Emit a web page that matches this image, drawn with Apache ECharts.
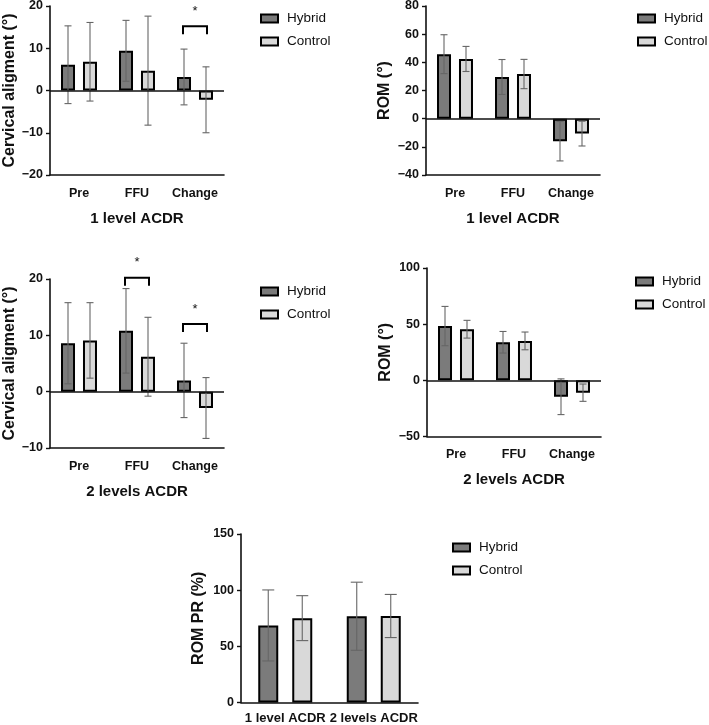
<!DOCTYPE html>
<html>
<head>
<meta charset="utf-8">
<script src="https://cdn.jsdelivr.net/npm/echarts@6/dist/echarts.min.js"></script>
<style>
  html, body { margin: 0; padding: 0; background: #fff; }
  #main { width: 709px; height: 725px; }
</style>
</head>
<body>
<div id="main"></div>
<script>
// categories
const phaseCats = ["Pre", "FFU", "Change"];
const levelCats = ["1 level ACDR", "2 levels ACDR"];

// panel 1: cervical alignment, 1 level ACDR (mean, SD)
const p1HybridMean = [6.1, 9.4, 3.2];
const p1HybridSd = [9.2, 7.2, 6.6];
const p1ControlMean = [6.8, 4.7, -2.2];
const p1ControlSd = [9.3, 12.9, 7.8];
const p1Sig = [[2, 15.2]];

// panel 2: ROM, 1 level ACDR
const p2HybridMean = [45.8, 29.6, -16.0];
const p2HybridSd = [13.8, 12.4, 14.0];
const p2ControlMean = [42.4, 31.7, -10.6];
const p2ControlSd = [8.9, 10.4, 8.8];

// panel 3: cervical alignment, 2 levels ACDR
const p3HybridMean = [8.6, 10.8, 2.0];
const p3HybridSd = [7.2, 7.5, 6.6];
const p3ControlMean = [9.1, 6.2, -2.9];
const p3ControlSd = [6.7, 7.0, 5.4];
const p3Sig = [[1, 20.2], [2, 12.0]];

// panel 4: ROM, 2 levels ACDR
const p4HybridMean = [48.3, 33.9, -14.6];
const p4HybridSd = [17.5, 9.6, 15.9];
const p4ControlMean = [45.5, 35.1, -11.0];
const p4ControlSd = [7.9, 7.9, 7.7];

// panel 5: ROM PR (%)
const p5HybridMean = [68.6, 76.8];
const p5HybridSd = [31.6, 30.3];
const p5ControlMean = [75.1, 77.0];
const p5ControlSd = [20.0, 19.2];

const FONT = "Arial, 'Liberation Sans', sans-serif";
const INK = "#111";
const HYBRID_COLOR = "#7b7b7b";
const CONTROL_COLOR = "#d9d9d9";
const ERR_COLOR = "#666";

const minus = v => String(v).replace("-", "\u2212");

function xAxisFor(gridIndex, cats, name, nameGap, labelSize, labelMargin) {
  return {
    type: "category", gridIndex: gridIndex, data: cats,
    name: name, nameLocation: "middle", nameGap: nameGap,
    nameTextStyle: { fontFamily: FONT, fontSize: 15, fontWeight: "bold", color: INK },
    axisLine: { onZero: false, lineStyle: { color: INK, width: 1.6 } },
    axisTick: { alignWithLabel: true, length: 6, lineStyle: { color: INK, width: 1.4 } },
    axisLabel: { interval: 0, margin: labelMargin, fontFamily: FONT, fontSize: labelSize, fontWeight: "bold", color: INK },
    splitLine: { show: false }
  };
}

function yAxisFor(gridIndex, min, max, interval, name, nameGap) {
  return {
    type: "value", gridIndex: gridIndex, min: min, max: max, interval: interval,
    name: name, nameLocation: "middle", nameGap: nameGap,
    nameTextStyle: { fontFamily: FONT, fontSize: 16, fontWeight: "bold", color: INK },
    axisLine: { show: true, lineStyle: { color: INK, width: 1.6 } },
    axisTick: { show: true, length: 4, lineStyle: { color: INK, width: 1.4 } },
    axisLabel: { margin: 7, fontFamily: FONT, fontSize: 12.5, fontWeight: "bold", color: INK, formatter: minus },
    splitLine: { show: false }
  };
}

function barSeries(idx, name, values, color, barWidth, barGap, zeroLine) {
  const s = {
    type: "bar", name: name, xAxisIndex: idx, yAxisIndex: idx, data: values,
    barWidth: barWidth, barGap: barGap,
    itemStyle: { color: color, borderColor: "#000", borderWidth: 2 },
    emphasis: { disabled: true },
    z: 2
  };
  if (zeroLine) {
    s.markLine = {
      silent: true, symbol: "none", label: { show: false },
      lineStyle: { color: INK, width: 1.6, type: "solid" },
      data: [{ yAxis: 0 }]
    };
  }
  return s;
}

// error bars: mean +/- SD, drawn over the bar at its pixel offset
function errSeries(idx, means, sds, offset, cap) {
  return {
    type: "custom", xAxisIndex: idx, yAxisIndex: idx, silent: true, z: 4,
    data: means.map((m, i) => [i, m - sds[i], m + sds[i]]),
    renderItem: function (params, api) {
      const lo = api.coord([api.value(0), api.value(1)]);
      const hi = api.coord([api.value(0), api.value(2)]);
      const x = lo[0] + offset;
      const st = { stroke: ERR_COLOR, lineWidth: 1.1 };
      return {
        type: "group",
        children: [
          { type: "line", shape: { x1: x, y1: lo[1], x2: x, y2: hi[1] }, style: st },
          { type: "line", shape: { x1: x - cap / 2, y1: hi[1], x2: x + cap / 2, y2: hi[1] }, style: st },
          { type: "line", shape: { x1: x - cap / 2, y1: lo[1], x2: x + cap / 2, y2: lo[1] }, style: st }
        ]
      };
    }
  };
}

// significance bracket with asterisk
function sigSeries(idx, items, half) {
  return {
    type: "custom", xAxisIndex: idx, yAxisIndex: idx, silent: true, z: 5, clip: false,
    data: items,
    renderItem: function (params, api) {
      const p = api.coord([api.value(0), api.value(1)]);
      const x = p[0], y = p[1];
      return {
        type: "group",
        children: [
          { type: "polyline",
            shape: { points: [[x - half, y + 8], [x - half, y], [x + half, y], [x + half, y + 8]] },
            style: { stroke: "#000", lineWidth: 2, fill: null } },
          { type: "text",
            style: { x: x, y: y - 15, text: "*", align: "center", verticalAlign: "middle",
                     font: "13px " + FONT, fill: INK } }
        ]
      };
    }
  };
}

function legendAt(left, top) {
  return {
    orient: "vertical", left: left, top: top, padding: 0, selectedMode: false,
    data: ["Hybrid", "Control"], icon: "rect",
    itemWidth: 17, itemHeight: 8, itemGap: 9,
    textStyle: { fontFamily: FONT, fontSize: 13.5, color: INK, padding: [0, 0, 0, 4] }
  };
}

function gridAt(left, top, width, height) {
  return { left: left, top: top, width: width, height: height, outerBoundsMode: "none", containLabel: false };
}

const option = {
  animation: false,
  backgroundColor: "#fff",
  grid: [
    gridAt(50, 6, 174, 169),
    gridAt(426, 6, 174, 169),
    gridAt(50, 279, 174, 169),
    gridAt(427, 268, 174, 168.5),
    gridAt(241, 534, 177, 168.5)
  ],
  legend: [legendAt(260, 11.5), legendAt(637, 11.5), legendAt(260, 284.5), legendAt(635, 274.5), legendAt(452, 540.5)],
  xAxis: [
    xAxisFor(0, phaseCats, "1 level ACDR", 36, 12.5, 12),
    xAxisFor(1, phaseCats, "1 level ACDR", 36, 12.5, 12),
    xAxisFor(2, phaseCats, "2 levels ACDR", 36, 12.5, 12),
    xAxisFor(3, phaseCats, "2 levels ACDR", 36, 12.5, 12),
    xAxisFor(4, levelCats, "", 10, 13, 9)
  ],
  yAxis: [
    yAxisFor(0, -20, 20, 10, "Cervical aligment (\u00b0)", 32),
    yAxisFor(1, -40, 80, 20, "ROM (\u00b0)", 33),
    yAxisFor(2, -10, 20, 10, "Cervical aligment (\u00b0)", 32),
    yAxisFor(3, -50, 100, 50, "ROM (\u00b0)", 33),
    yAxisFor(4, 0, 150, 50, "ROM PR (%)", 34)
  ],
  series: [
    barSeries(0, "Hybrid", p1HybridMean, HYBRID_COLOR, 14, "57%", true),
    barSeries(0, "Control", p1ControlMean, CONTROL_COLOR, 14, "57%", false),
    errSeries(0, p1HybridMean, p1HybridSd, -11, 7),
    errSeries(0, p1ControlMean, p1ControlSd, 11, 7),
    sigSeries(0, p1Sig, 12),

    barSeries(1, "Hybrid", p2HybridMean, HYBRID_COLOR, 14, "57%", true),
    barSeries(1, "Control", p2ControlMean, CONTROL_COLOR, 14, "57%", false),
    errSeries(1, p2HybridMean, p2HybridSd, -11, 7),
    errSeries(1, p2ControlMean, p2ControlSd, 11, 7),

    barSeries(2, "Hybrid", p3HybridMean, HYBRID_COLOR, 14, "57%", true),
    barSeries(2, "Control", p3ControlMean, CONTROL_COLOR, 14, "57%", false),
    errSeries(2, p3HybridMean, p3HybridSd, -11, 7),
    errSeries(2, p3ControlMean, p3ControlSd, 11, 7),
    sigSeries(2, p3Sig, 12),

    barSeries(3, "Hybrid", p4HybridMean, HYBRID_COLOR, 14, "57%", true),
    barSeries(3, "Control", p4ControlMean, CONTROL_COLOR, 14, "57%", false),
    errSeries(3, p4HybridMean, p4HybridSd, -11, 7),
    errSeries(3, p4ControlMean, p4ControlSd, 11, 7),

    barSeries(4, "Hybrid", p5HybridMean, HYBRID_COLOR, 20, "70%", false),
    barSeries(4, "Control", p5ControlMean, CONTROL_COLOR, 20, "70%", false),
    errSeries(4, p5HybridMean, p5HybridSd, -17, 12),
    errSeries(4, p5ControlMean, p5ControlSd, 17, 12)
  ]
};

const chart = echarts.init(document.getElementById("main"));
chart.setOption(option);
</script>
</body>
</html>
